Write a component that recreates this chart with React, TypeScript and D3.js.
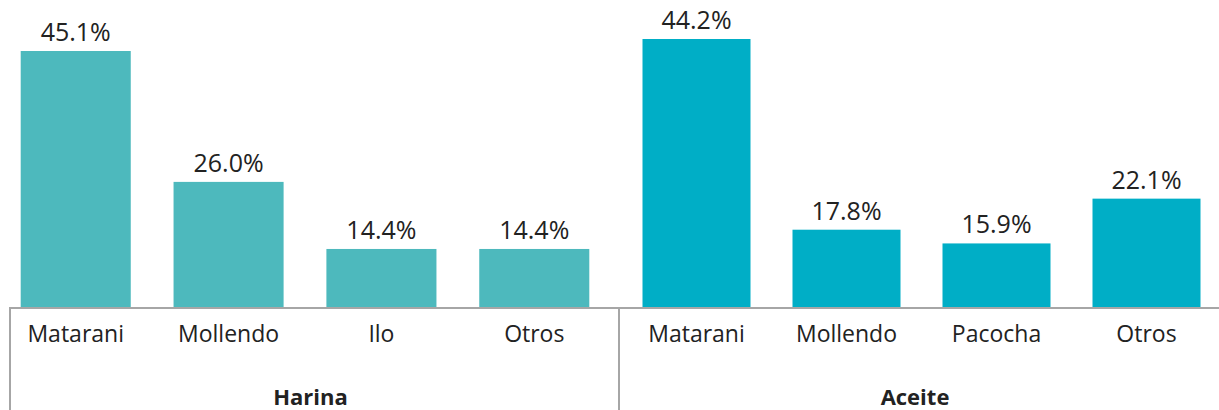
import React, { useEffect, useRef } from 'react';
import * as d3 from 'd3';

// Participación por puerto (%)
const harinaPuertos = ['Matarani', 'Mollendo', 'Ilo', 'Otros'];
const harinaValores = [45.1, 26.0, 14.4, 14.4];

const aceitePuertos = ['Matarani', 'Mollendo', 'Pacocha', 'Otros'];
const aceiteValores = [44.2, 17.8, 15.9, 22.1];

const grupos = ['Harina', 'Aceite'];

const App = () => {
  const chartRef = useRef<SVGSVGElement>(null);

  useEffect(() => {
    const svg = d3.select(chartRef.current);
    svg.selectAll('*').remove();

    const width = 1219;
    const height = 410;
    const baseY = 308;
    const font = '"Open Sans", "DejaVu Sans", sans-serif';

    // each panel has its own value scale in the original
    const panels = [
      {
        name: grupos[0],
        cats: harinaPuertos,
        vals: harinaValores,
        color: '#4db9bd',
        range: [10, 600],
        left: 10,
        right: 619,
        y: d3.scalePow().exponent(1.3).domain([0, d3.max(harinaValores)!]).range([baseY - 1, 51]),
      },
      {
        name: grupos[1],
        cats: aceitePuertos,
        vals: aceiteValores,
        color: '#00aec6',
        range: [632, 1211],
        left: 619,
        right: width,
        y: d3.scaleLinear().domain([7.1, d3.max(aceiteValores)!]).range([baseY - 1, 39]),
      },
    ];

    panels.forEach(p => {
      const x = d3.scaleBand()
        .domain(p.cats)
        .range(p.range as [number, number])
        .paddingInner(0.28)
        .paddingOuter(0.07);
      const y = p.y;

      const rows = p.cats.map((c, i) => ({ cat: c, val: p.vals[i] }));
      const g = svg.append('g');

      // bars
      g.selectAll('rect')
        .data(rows)
        .join('rect')
        .attr('x', d => x(d.cat)!)
        .attr('y', d => y(d.val))
        .attr('width', x.bandwidth())
        .attr('height', d => baseY - 1 - y(d.val))
        .attr('fill', p.color);

      // value labels
      g.selectAll('text.val')
        .data(rows)
        .join('text')
        .attr('class', 'val')
        .attr('x', d => x(d.cat)! + x.bandwidth() / 2)
        .attr('y', d => y(d.val) - 10)
        .attr('text-anchor', 'middle')
        .attr('font-family', font)
        .attr('font-size', 25)
        .attr('fill', '#222')
        .text(d => d.val.toFixed(1) + '%');

      // category labels
      g.selectAll('text.cat')
        .data(rows)
        .join('text')
        .attr('class', 'cat')
        .attr('x', d => x(d.cat)! + x.bandwidth() / 2)
        .attr('y', 342)
        .attr('text-anchor', 'middle')
        .attr('font-family', font)
        .attr('font-size', 23)
        .attr('fill', '#222')
        .text(d => d.cat);

      // group label
      g.append('text')
        .attr('x', (p.left + p.right) / 2 - 4)
        .attr('y', 405)
        .attr('text-anchor', 'middle')
        .attr('font-family', font)
        .attr('font-size', 22)
        .attr('font-weight', 700)
        .attr('fill', '#222')
        .text(p.name);
    });

    // axis line + group separators
    svg.append('line')
      .attr('x1', 9).attr('x2', width)
      .attr('y1', baseY).attr('y2', baseY)
      .attr('stroke', '#a6a6a6').attr('stroke-width', 2);

    [10, 619].forEach(sx => {
      svg.append('line')
        .attr('x1', sx).attr('x2', sx)
        .attr('y1', baseY).attr('y2', height)
        .attr('stroke', '#a6a6a6').attr('stroke-width', 2);
    });
  }, []);

  return (
    <svg
      ref={chartRef}
      width={1219}
      height={410}
      style={{ position: 'absolute', left: 0, top: 0, background: '#fff' }}
    ></svg>
  );
};

export default App;
